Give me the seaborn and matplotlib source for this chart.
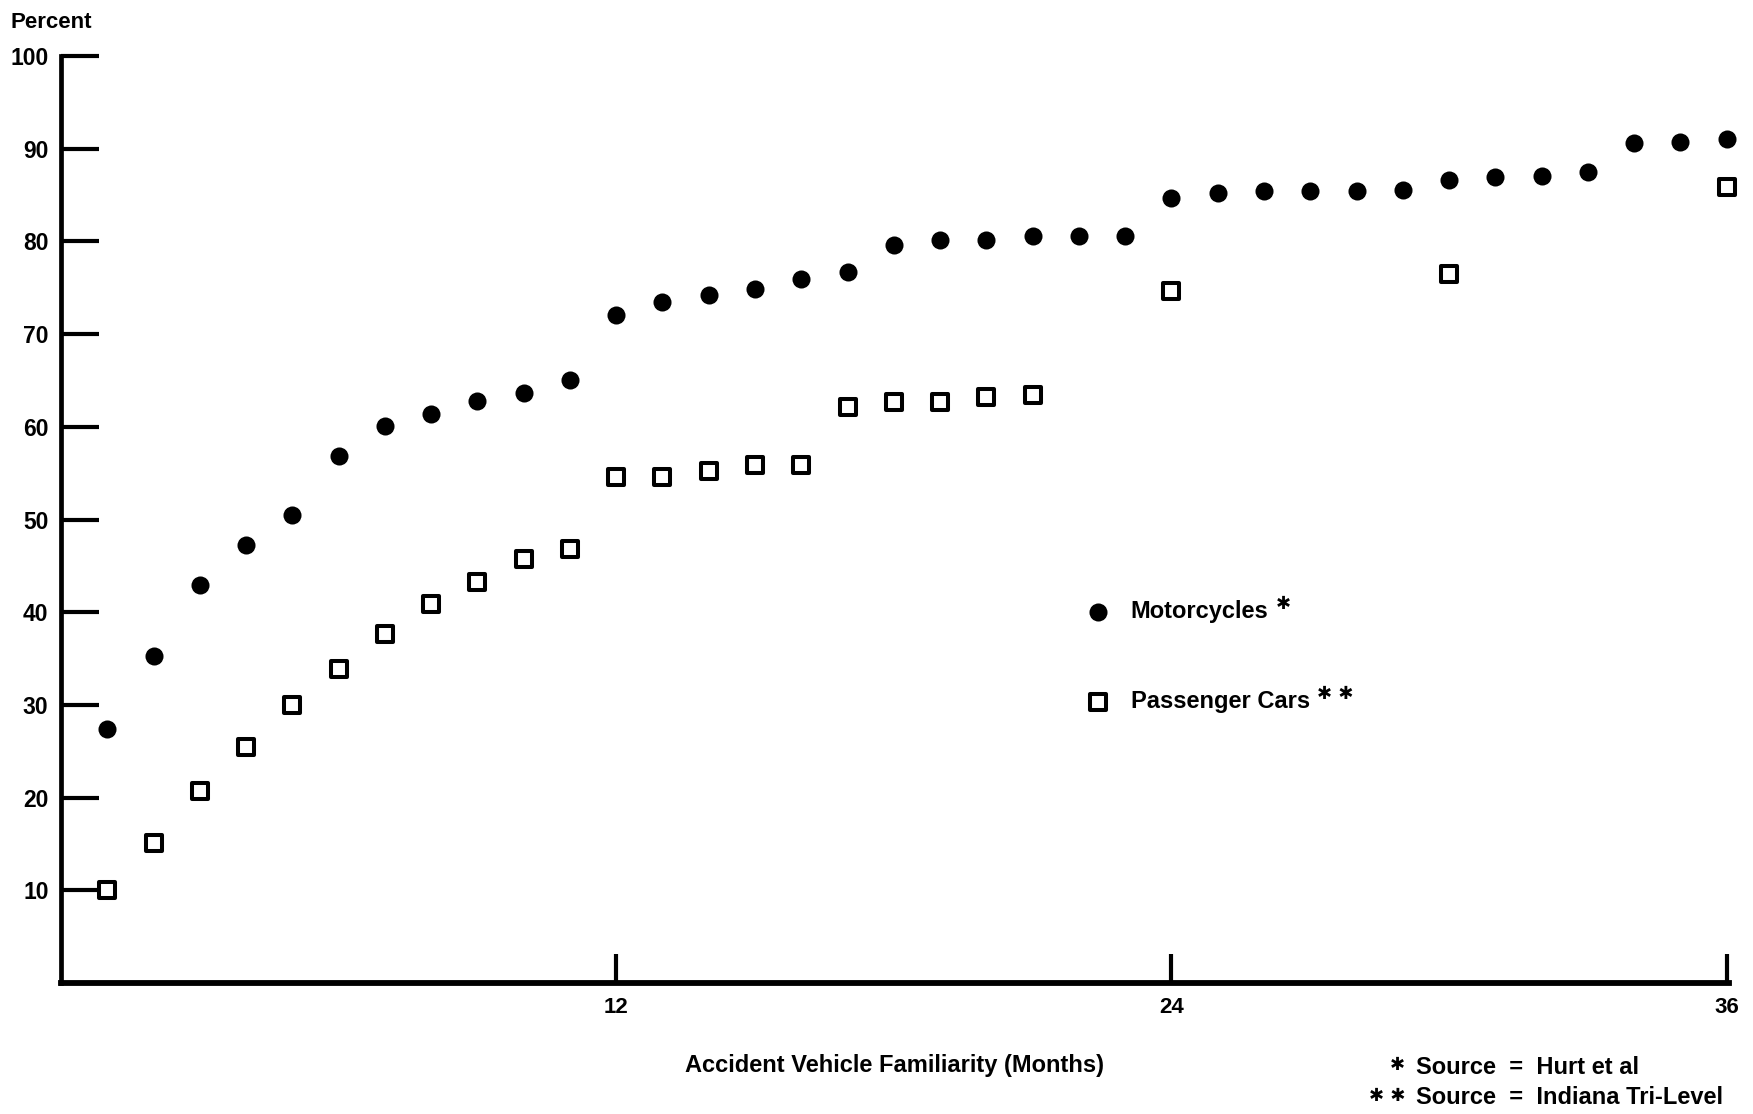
import matplotlib
matplotlib.use("Agg")
import matplotlib.pyplot as plt
import seaborn as sns
import pandas as pd

# ---- data ----
months = list(range(1, 37))
motorcycles = [27.4, 35.3, 42.9, 47.2, 50.5, 56.9, 60.1, 61.4, 62.8, 63.7, 65.0,
               72.1, 73.5, 74.2, 74.9, 76.0, 76.7,
               79.6, 80.2, 80.2, 80.6, 80.6, 80.6,
               84.7, 85.2, 85.4, 85.4, 85.4, 85.5,
               86.6, 87.0, 87.1, 87.5, 90.6, 90.7, 91.0]
car_months = list(range(1, 22)) + [24, 30, 36]
cars = [10.0, 15.1, 20.7, 25.5, 30.0, 33.9, 37.6, 40.9, 43.3, 45.7, 46.8,
        54.6, 54.6, 55.2, 55.9, 55.9,
        62.1, 62.7, 62.7, 63.2, 63.4,
        74.7, 76.5, 85.9]
y_ticks = [10, 20, 30, 40, 50, 60, 70, 80, 90, 100]
x_ticks = [12, 24, 36]
series_labels = ["Motorcycles", "Passenger Cars"]
series_marks = ["\u2731", "\u2731 \u2731"]
source_lines = ["Source  =  Hurt et al", "Source  =  Indiana Tri-Level"]

moto_df = pd.DataFrame({"month": months, "pct": motorcycles})
car_df = pd.DataFrame({"month": car_months, "pct": cars})

sns.set_style("white")
plt.rcParams["font.family"] = ["Liberation Sans", "DejaVu Sans"]
plt.rcParams["font.weight"] = "bold"
plt.rcParams["text.color"] = "black"
plt.rcParams["axes.labelcolor"] = "black"

fig = plt.figure(figsize=(17.53, 11.14), dpi=100)
ax = fig.add_axes([0.0348, 0.1176, 0.9515, 0.8321])

sns.scatterplot(data=moto_df, x="month", y="pct", marker="o", color="black",
                s=13 ** 2, linewidth=0, ax=ax, clip_on=False, zorder=3,
                label=series_labels[0])
sns.scatterplot(data=car_df, x="month", y="pct", marker="s", color="white",
                edgecolor="black", s=11.5 ** 2, linewidth=2.9, ax=ax,
                clip_on=False, zorder=3, label=series_labels[1])

ax.set_xlim(0, 36.05)
ax.set_ylim(0, 100)
ax.set_yticks(y_ticks)
ax.set_xticks(x_ticks)
ax.set_yticklabels([str(v) for v in y_ticks])
ax.set_xticklabels([str(v) for v in x_ticks])

for s in ["top", "right"]:
    ax.spines[s].set_visible(False)
ax.spines["left"].set_linewidth(3.4)
ax.spines["bottom"].set_linewidth(4.2)
ax.spines["left"].set_color("black")
ax.spines["bottom"].set_color("black")

ax.tick_params(axis="y", which="major", left=True, direction="in", length=27,
               width=3, pad=9, labelsize=16.5, colors="black")
ax.tick_params(axis="x", which="major", bottom=True, direction="in", length=21,
               width=3, pad=10, labelsize=16, colors="black")

ax.set_xlabel("Accident Vehicle Familiarity (Months)", fontsize=17,
              fontweight="bold", labelpad=26, color="black")
ax.set_ylabel("")
ax.grid(False)

leg = ax.legend(loc="upper left", bbox_to_anchor=(0.6145, 0.413),
                frameon=False, prop={"size": 17, "weight": "bold"},
                handlelength=1.0, handletextpad=0.9, labelspacing=2.85,
                borderpad=0, borderaxespad=0)
for txt in leg.get_texts():
    txt.set_color("black")
for txt, mark in zip(leg.get_texts(), series_marks):
    ax.annotate(mark, xy=(1, 1), xycoords=txt, xytext=(5, 4),
                textcoords="offset points", ha="left", va="top",
                fontsize=13, family="DejaVu Sans", color="black", zorder=6)

fig.text(0.006, 0.980, "Percent", fontsize=16, ha="left", va="center")

fig.text(0.8077, 0.0413, source_lines[0], fontsize=17, ha="left", va="center")
fig.text(0.8077, 0.0144, source_lines[1], fontsize=17, ha="left", va="center")
fig.text(0.8015, 0.0440, series_marks[0], fontsize=13, ha="right", va="center",
         family="DejaVu Sans")
fig.text(0.8015, 0.0160, series_marks[1], fontsize=13, ha="right", va="center",
         family="DejaVu Sans")

fig.canvas.draw()
fig.savefig("out.png", dpi=100, facecolor="white")
